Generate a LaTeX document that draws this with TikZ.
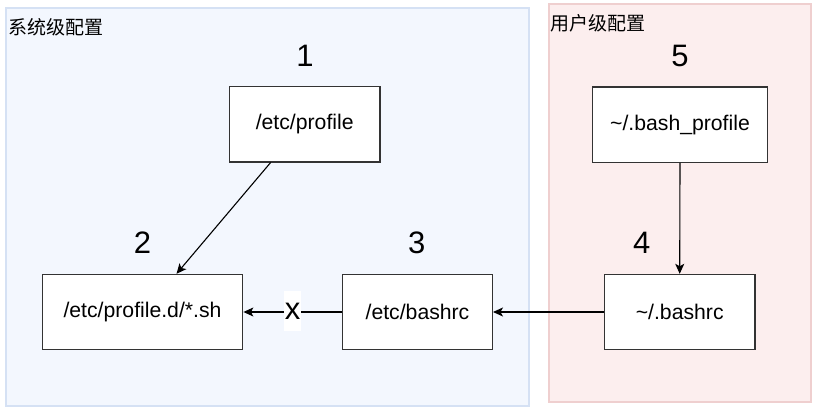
\documentclass[tikz,border=0pt]{standalone}
\usepackage{fontspec}
\setmainfont{Liberation Sans}
\newfontfamily\cjk{Noto Sans CJK SC}
\usetikzlibrary{arrows.meta}
\definecolor{sysfill}{HTML}{F3F7FE}
\definecolor{sysline}{HTML}{D5E1F4}
\definecolor{usrfill}{HTML}{FCEEEE}
\definecolor{usrline}{HTML}{EFCFCF}
\begin{document}
\begin{tikzpicture}[x=1pt,y=-1pt,
    cfgbox/.style={draw=black!80,line width=1.4pt,fill=white,minimum height=75pt,
        inner sep=0pt,font=\fontsize{21.2}{25}\selectfont},
    stepnum/.style={font=\fontsize{31}{36}\selectfont,inner sep=0pt},
    grouplabel/.style={anchor=west,inner sep=0pt,font=\cjk\fontsize{19}{22}\selectfont},
    link/.style={line width=1.1pt,-{Stealth[length=10pt,width=9pt,inset=2.5pt]}}]
                \useasboundingbox (0,0) rectangle (827,417);
                %% groups
                \draw[sysline,fill=sysfill,line width=2pt] (5.5,8.5) rectangle (528.5,405.5);
                \draw[usrline,fill=usrfill,line width=2pt] (548.5,4.5) rectangle (810.5,401.5);
                \node[grouplabel] (sys) at (8,27) {系统级配置};
                \node[grouplabel] (usr) at (550,23) {用户级配置};
                %% system files
                \node[cfgbox,minimum width=150.7pt] (profile) at (304.7,124.3) {/etc/profile};
                \node[cfgbox,minimum width=200.4pt] (profiled) at (142.5,312) {/etc/profile.d/*.sh};
                \node[cfgbox,minimum width=149.6pt] (bashrc) at (417.5,312) {/etc/bashrc};
                %% user files
                \node[cfgbox,minimum width=175.4pt] (bashprofile) at (680,124.7) {\textasciitilde/.bash\_profile};
                \node[cfgbox,minimum width=150.7pt] (userbashrc) at (679.7,312) {\textasciitilde/.bashrc};
                %% order
                \node[stepnum] (n1) at (305,56) {1};
                \node[stepnum] (n2) at (142.5,243) {2};
                \node[stepnum] (n3) at (416.7,242.5) {3};
                \node[stepnum] (n4) at (641.7,242.5) {4};
                \node[stepnum] (n5) at (680,56) {5};
                %% arrows
                \draw[link] ([xshift=42pt]profile.south west) -- ([xshift=34pt]profiled.north);
                \draw[link] (bashprofile.south) -- (userbashrc.north);
                \draw[link] (userbashrc.west) -- (bashrc.east);
                \draw[link] (bashrc.west) -- node[fill=white,inner sep=0pt,minimum width=17pt,
                    minimum height=40pt,font=\fontsize{31}{36}\selectfont,yshift=1pt] (cut) {x} (profiled.east);
            \end{tikzpicture}
\end{document}
